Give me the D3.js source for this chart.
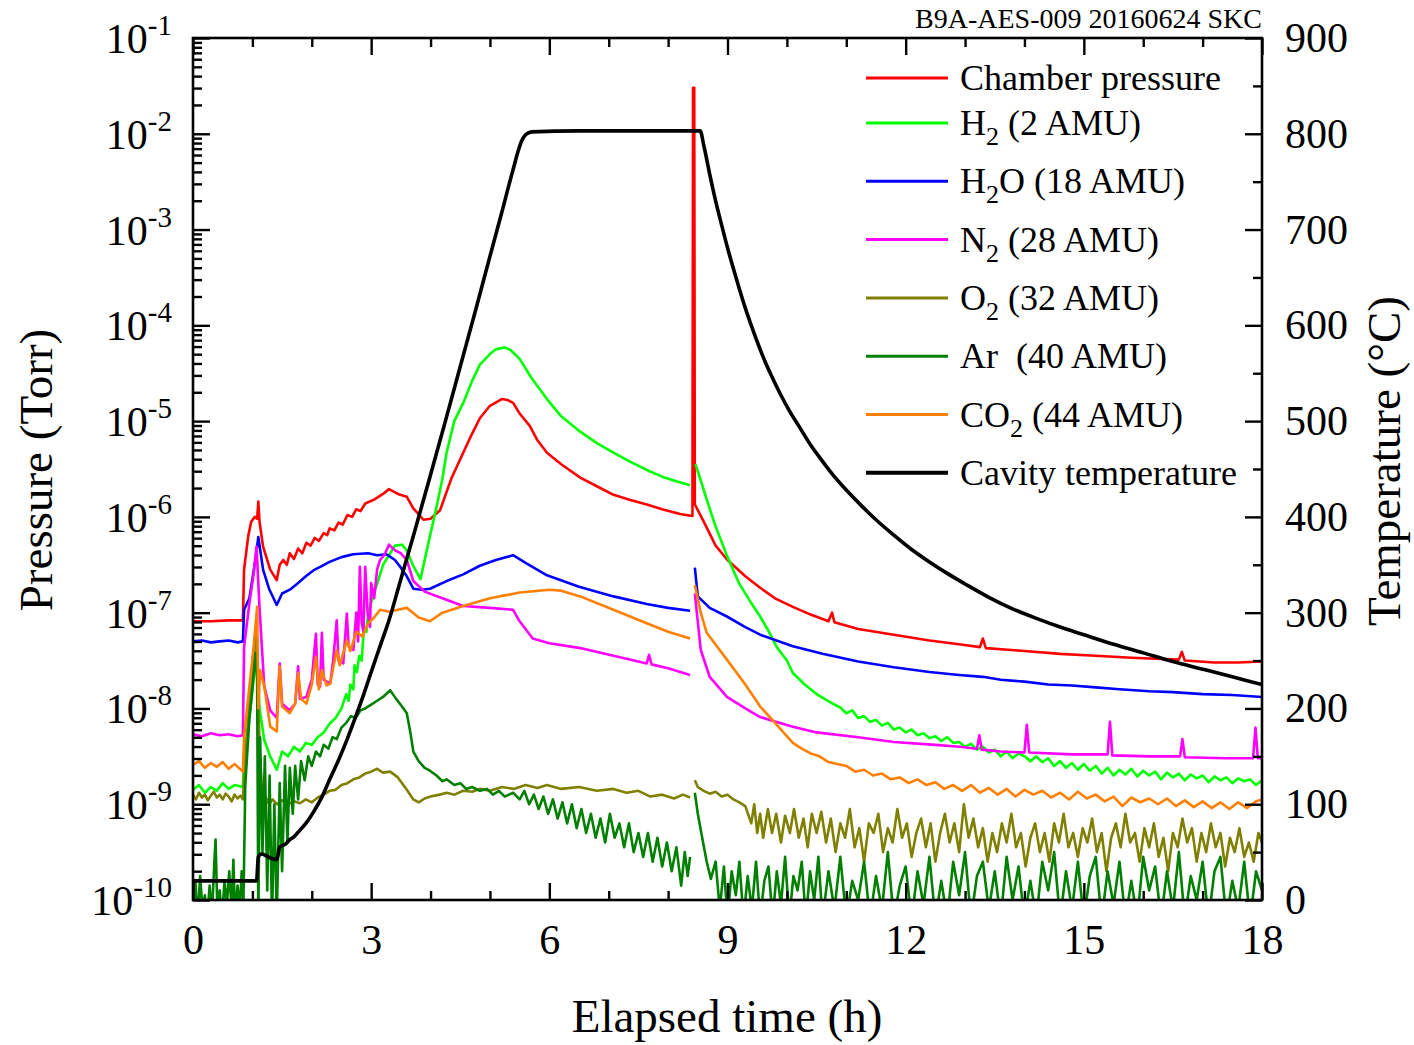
<!DOCTYPE html>
<html>
<head>
<meta charset="utf-8">
<script src="https://cdn.jsdelivr.net/npm/d3@7"></script>
<style>
body{margin:0;background:#fff;}
text{font-family:"Liberation Serif","Times New Roman",serif;fill:#000;}
</style>
</head>
<body>
<svg id="chart"></svg>
<script>
// pressures are stored as log10(Torr), temperature in degC, time in hours
// null marks the short gap in the RGA data around the pressure burst
var chamberP=[[0,-7.09],[0.3,-7.09],[0.6,-7.08],[0.84,-7.08],[0.86,-6.55],[0.93,-6.2],[0.98,-6.05],[1.04,-6.0],[1.08,-6.02],[1.1,-5.84],[1.12,-6.05],[1.18,-6.31],[1.3,-6.55],[1.41,-6.66],[1.46,-6.5],[1.52,-6.45],[1.58,-6.5],[1.63,-6.38],[1.7,-6.44],[1.77,-6.33],[1.84,-6.38],[1.91,-6.27],[1.98,-6.3],[2.05,-6.22],[2.12,-6.25],[2.2,-6.17],[2.26,-6.19],[2.3,-6.12],[2.38,-6.14],[2.45,-6.06],[2.52,-6.08],[2.6,-5.98],[2.68,-6.0],[2.75,-5.92],[2.82,-5.94],[2.9,-5.86],[3.05,-5.82],[3.2,-5.76],[3.3,-5.71],[3.45,-5.76],[3.6,-5.79],[3.71,-5.91],[3.88,-6.03],[4.0,-6.02],[4.16,-5.93],[4.35,-5.6],[4.55,-5.33],[4.7,-5.13],[4.83,-4.97],[5.0,-4.84],[5.2,-4.77],[5.3,-4.78],[5.39,-4.81],[5.5,-4.92],[5.67,-5.05],[5.8,-5.2],[5.96,-5.33],[6.2,-5.45],[6.52,-5.59],[6.8,-5.68],[7.08,-5.77],[7.35,-5.82],[7.64,-5.87],[7.9,-5.92],[8.2,-5.97],[8.41,-5.99],[8.42,-1.52],[8.44,-1.52],[8.45,-5.87],[8.6,-6.05],[8.8,-6.3],[9.0,-6.45],[9.3,-6.62],[9.55,-6.74],[9.8,-6.85],[10.1,-6.94],[10.4,-7.02],[10.7,-7.09],[10.76,-7.0],[10.8,-7.1],[11.2,-7.17],[11.8,-7.23],[12.4,-7.29],[12.9,-7.33],[13.25,-7.36],[13.3,-7.27],[13.35,-7.37],[14.0,-7.4],[14.6,-7.43],[15.2,-7.45],[15.8,-7.47],[16.6,-7.49],[16.65,-7.41],[16.7,-7.5],[17.2,-7.52],[17.6,-7.52],[18,-7.51]];

var h2P=[[0,-8.85],[0.1,-8.8],[0.2,-8.88],[0.3,-8.82],[0.4,-8.86],[0.5,-8.78],[0.6,-8.84],[0.7,-8.8],[0.84,-8.82],[0.86,-8.5],[0.95,-8.1],[1.02,-7.7],[1.08,-7.4],[1.12,-8.0],[1.2,-8.33],[1.3,-8.5],[1.41,-8.64],[1.5,-8.45],[1.6,-8.5],[1.7,-8.4],[1.8,-8.45],[1.9,-8.36],[2.0,-8.38],[2.1,-8.3],[2.2,-8.25],[2.3,-8.16],[2.4,-8.1],[2.5,-8.0],[2.58,-7.85],[2.62,-7.92],[2.65,-7.75],[2.7,-7.8],[2.72,-7.55],[2.76,-7.62],[2.8,-7.45],[2.84,-7.5],[2.88,-7.15],[2.92,-7.2],[2.95,-7.0],[3.02,-6.85],[3.1,-6.7],[3.2,-6.5],[3.3,-6.4],[3.4,-6.3],[3.52,-6.29],[3.6,-6.35],[3.7,-6.5],[3.83,-6.65],[3.99,-6.2],[4.1,-5.9],[4.2,-5.6],[4.27,-5.33],[4.4,-5.0],[4.55,-4.81],[4.7,-4.58],[4.83,-4.41],[5.0,-4.3],[5.1,-4.25],[5.25,-4.23],[5.35,-4.26],[5.5,-4.35],[5.7,-4.55],[5.96,-4.77],[6.2,-4.95],[6.52,-5.11],[6.8,-5.23],[7.08,-5.33],[7.35,-5.42],[7.64,-5.51],[7.9,-5.58],[8.15,-5.63],[8.37,-5.67],[8.4,null],[8.46,-5.45],[8.55,-5.62],[8.65,-5.82],[8.8,-6.1],[9.0,-6.42],[9.2,-6.7],[9.4,-6.9],[9.55,-7.04],[9.7,-7.2],[9.83,-7.36],[10.0,-7.5],[10.1,-7.63],[10.3,-7.75],[10.5,-7.85],[10.77,-7.95],[10.9,-7.99],[11.0,-8.05],[11.1,-8.02],[11.2,-8.1],[11.3,-8.08],[11.4,-8.14],[11.5,-8.12],[11.6,-8.18],[11.7,-8.15],[11.8,-8.22],[11.9,-8.2],[12.0,-8.25],[12.1,-8.22],[12.2,-8.28],[12.3,-8.26],[12.4,-8.31],[12.5,-8.29],[12.6,-8.34],[12.7,-8.3],[12.8,-8.36],[12.9,-8.35],[13.0,-8.4],[13.1,-8.37],[13.2,-8.43],[13.3,-8.4],[13.4,-8.46],[13.5,-8.43],[13.6,-8.5],[13.7,-8.45],[13.8,-8.52],[13.9,-8.47],[14.0,-8.5],[14.1,-8.55],[14.2,-8.5],[14.3,-8.56],[14.4,-8.52],[14.5,-8.6],[14.6,-8.55],[14.7,-8.62],[14.8,-8.57],[14.9,-8.64],[15.0,-8.58],[15.1,-8.65],[15.2,-8.6],[15.3,-8.68],[15.4,-8.62],[15.5,-8.7],[15.6,-8.64],[15.7,-8.69],[15.8,-8.63],[15.9,-8.71],[16.0,-8.65],[16.1,-8.7],[16.2,-8.66],[16.3,-8.74],[16.4,-8.67],[16.5,-8.72],[16.6,-8.68],[16.7,-8.75],[16.8,-8.69],[16.9,-8.73],[17.0,-8.7],[17.1,-8.77],[17.2,-8.71],[17.3,-8.75],[17.4,-8.72],[17.5,-8.78],[17.6,-8.73],[17.7,-8.76],[17.8,-8.74],[17.9,-8.8],[18,-8.75]];

var h2oP=[[0,-7.3],[0.15,-7.29],[0.3,-7.31],[0.45,-7.3],[0.6,-7.29],[0.75,-7.31],[0.84,-7.3],[0.86,-6.97],[0.95,-6.85],[1.0,-6.65],[1.05,-6.45],[1.1,-6.21],[1.18,-6.55],[1.28,-6.75],[1.41,-6.92],[1.5,-6.8],[1.63,-6.76],[1.75,-6.7],[1.9,-6.62],[2.05,-6.55],[2.15,-6.52],[2.3,-6.47],[2.5,-6.42],[2.7,-6.39],[2.95,-6.38],[3.1,-6.4],[3.26,-6.39],[3.4,-6.45],[3.5,-6.53],[3.6,-6.62],[3.71,-6.75],[3.85,-6.76],[3.99,-6.75],[4.27,-6.67],[4.55,-6.6],[4.83,-6.51],[5.1,-6.45],[5.39,-6.4],[5.6,-6.48],[5.96,-6.61],[6.5,-6.73],[7.08,-6.83],[7.64,-6.91],[8.0,-6.95],[8.37,-6.98],[8.4,null],[8.45,-6.53],[8.5,-6.83],[8.7,-6.95],[8.99,-7.04],[9.3,-7.15],[9.55,-7.23],[10.1,-7.35],[10.6,-7.43],[11.2,-7.51],[11.8,-7.57],[12.4,-7.62],[12.9,-7.65],[13.3,-7.67],[13.6,-7.7],[14.0,-7.72],[14.4,-7.75],[14.8,-7.76],[15.2,-7.78],[15.6,-7.8],[16.1,-7.82],[16.5,-7.83],[17.0,-7.85],[17.5,-7.86],[18,-7.88]];

var n2P=[[0,-8.27],[0.15,-8.29],[0.3,-8.26],[0.45,-8.28],[0.6,-8.27],[0.75,-8.29],[0.84,-8.28],[0.86,-7.36],[0.95,-6.9],[1.02,-6.6],[1.07,-6.31],[1.12,-6.95],[1.2,-7.77],[1.3,-8.02],[1.41,-8.1],[1.46,-7.53],[1.5,-7.95],[1.63,-8.02],[1.72,-7.95],[1.77,-7.56],[1.8,-7.9],[1.91,-7.88],[2.0,-7.7],[2.07,-7.22],[2.1,-7.75],[2.14,-7.77],[2.17,-7.21],[2.2,-7.7],[2.31,-7.74],[2.36,-7.5],[2.42,-7.08],[2.45,-7.5],[2.53,-7.53],[2.59,-7.01],[2.62,-7.35],[2.7,-7.39],[2.75,-7.0],[2.78,-7.3],[2.81,-6.52],[2.84,-7.1],[2.87,-7.2],[2.9,-6.52],[2.94,-7.0],[2.98,-7.15],[3.0,-6.69],[3.05,-6.85],[3.1,-6.55],[3.15,-6.45],[3.22,-6.4],[3.3,-6.29],[3.4,-6.35],[3.5,-6.38],[3.6,-6.45],[3.71,-6.67],[3.9,-6.78],[4.2,-6.85],[4.55,-6.93],[5.0,-6.95],[5.39,-6.97],[5.5,-7.09],[5.72,-7.27],[6.0,-7.32],[6.52,-7.37],[7.08,-7.45],[7.64,-7.53],[7.68,-7.44],[7.72,-7.54],[8.0,-7.58],[8.37,-7.65],[8.4,null],[8.45,-6.8],[8.55,-7.39],[8.7,-7.67],[8.99,-7.88],[9.3,-8.0],[9.55,-8.09],[10.1,-8.19],[10.5,-8.25],[11.2,-8.3],[11.8,-8.35],[12.5,-8.38],[12.91,-8.4],[13.2,-8.42],[13.24,-8.28],[13.28,-8.43],[13.6,-8.45],[14.0,-8.46],[14.04,-8.17],[14.08,-8.46],[14.8,-8.48],[15.4,-8.48],[15.44,-8.14],[15.48,-8.49],[16.1,-8.5],[16.62,-8.5],[16.66,-8.32],[16.7,-8.51],[17.4,-8.52],[17.85,-8.52],[17.89,-8.2],[17.93,-8.52],[18,-8.52]];

var o2P=[[0,-8.9],[0.05,-8.95],[0.1,-8.88],[0.15,-8.93],[0.2,-8.9],[0.25,-8.96],[0.3,-8.91],[0.35,-8.87],[0.4,-8.93],[0.45,-8.9],[0.5,-8.95],[0.55,-8.89],[0.6,-8.92],[0.65,-8.97],[0.7,-8.9],[0.75,-8.94],[0.8,-8.91],[0.84,-8.95],[0.87,-8.6],[0.93,-8.1],[1.0,-7.6],[1.06,-7.18],[1.09,-7.6],[1.12,-8.4],[1.17,-8.96],[1.22,-8.92],[1.28,-9.0],[1.34,-8.95],[1.41,-9.0],[1.5,-8.96],[1.6,-9.0],[1.7,-8.97],[1.8,-8.99],[1.9,-8.95],[2.0,-8.98],[2.1,-8.93],[2.2,-8.9],[2.3,-8.86],[2.4,-8.85],[2.5,-8.8],[2.6,-8.78],[2.7,-8.74],[2.8,-8.72],[2.9,-8.68],[3.0,-8.66],[3.1,-8.63],[3.2,-8.67],[3.32,-8.66],[3.45,-8.72],[3.6,-8.85],[3.71,-8.95],[3.8,-8.98],[3.9,-8.94],[4.0,-8.92],[4.15,-8.9],[4.27,-8.88],[4.4,-8.9],[4.55,-8.86],[4.7,-8.87],[4.83,-8.84],[5.0,-8.86],[5.2,-8.82],[5.4,-8.84],[5.6,-8.8],[5.8,-8.83],[5.96,-8.8],[6.2,-8.84],[6.5,-8.82],[6.8,-8.86],[7.08,-8.84],[7.3,-8.88],[7.5,-8.86],[7.7,-8.92],[7.9,-8.9],[8.1,-8.94],[8.25,-8.9],[8.37,-8.93],[8.4,null],[8.45,-8.75],[8.5,-8.82],[8.6,-8.86],[8.7,-8.89],[8.8,-8.87],[8.9,-8.92],[9.0,-8.9],[9.1,-8.95],[9.2,-8.98],[9.3,-9.02],[9.4,-9.2],[9.45,-9.0],[9.5,-9.3],[9.55,-9.1],[9.6,-9.35],[9.68,-9.05],[9.75,-9.3],[9.82,-9.1],[9.9,-9.4],[9.97,-9.12],[10.05,-9.3],[10.12,-9.05],[10.2,-9.35],[10.28,-9.15],[10.35,-9.45],[10.42,-9.1],[10.5,-9.3],[10.58,-9.08],[10.66,-9.4],[10.74,-9.15],[10.82,-9.5],[10.9,-9.2],[10.98,-9.35],[11.06,-9.05],[11.14,-9.45],[11.22,-9.25],[11.3,-9.6],[11.38,-9.2],[11.46,-9.3],[11.54,-9.1],[11.62,-9.5],[11.7,-9.25],[11.78,-9.4],[11.86,-9.05],[11.94,-9.35],[12.02,-9.2],[12.1,-9.55],[12.18,-9.3],[12.26,-9.15],[12.34,-9.45],[12.42,-9.2],[12.5,-9.6],[12.58,-9.3],[12.66,-9.1],[12.74,-9.4],[12.82,-9.2],[12.9,-9.5],[12.98,-9.0],[13.06,-9.35],[13.14,-9.15],[13.22,-9.45],[13.3,-9.25],[13.38,-9.6],[13.46,-9.3],[13.54,-9.5],[13.62,-9.2],[13.7,-9.4],[13.78,-9.1],[13.86,-9.45],[13.94,-9.3],[14.02,-9.65],[14.1,-9.35],[14.18,-9.2],[14.26,-9.5],[14.34,-9.3],[14.42,-9.6],[14.5,-9.2],[14.58,-9.4],[14.66,-9.1],[14.74,-9.45],[14.82,-9.3],[14.9,-9.55],[14.98,-9.25],[15.06,-9.4],[15.14,-9.15],[15.22,-9.5],[15.3,-9.3],[15.38,-9.7],[15.46,-9.35],[15.54,-9.2],[15.62,-9.45],[15.7,-9.1],[15.78,-9.4],[15.86,-9.3],[15.94,-9.6],[16.02,-9.25],[16.1,-9.45],[16.18,-9.2],[16.26,-9.55],[16.34,-9.35],[16.42,-9.7],[16.5,-9.3],[16.58,-9.45],[16.66,-9.15],[16.74,-9.4],[16.82,-9.25],[16.9,-9.6],[16.98,-9.3],[17.06,-9.5],[17.14,-9.2],[17.22,-9.45],[17.3,-9.3],[17.38,-9.65],[17.46,-9.35],[17.54,-9.5],[17.62,-9.25],[17.7,-9.55],[17.78,-9.4],[17.86,-9.6],[17.94,-9.3],[18,-9.4]];

var arP=[[0,-10.05],[0.04,-9.8],[0.08,-10.2],[0.12,-9.75],[0.16,-10.1],[0.2,-9.95],[0.24,-10.2],[0.28,-9.85],[0.32,-10.15],[0.36,-9.6],[0.38,-9.37],[0.41,-10.1],[0.45,-9.9],[0.49,-10.2],[0.53,-9.8],[0.57,-10.05],[0.61,-9.7],[0.65,-10.1],[0.68,-9.58],[0.71,-10.2],[0.75,-9.85],[0.79,-10.1],[0.82,-9.7],[0.85,-10.0],[0.88,-8.8],[0.95,-8.1],[1.0,-7.8],[1.05,-7.42],[1.08,-7.7],[1.1,-10.2],[1.13,-8.3],[1.17,-9.5],[1.21,-8.5],[1.25,-9.9],[1.29,-8.7],[1.33,-10.2],[1.37,-9.0],[1.41,-10.2],[1.46,-8.78],[1.5,-9.7],[1.55,-8.6],[1.59,-9.4],[1.63,-8.62],[1.68,-9.1],[1.72,-8.6],[1.77,-8.95],[1.82,-8.55],[1.88,-8.75],[1.94,-8.5],[2.0,-8.6],[2.07,-8.45],[2.14,-8.5],[2.2,-8.38],[2.28,-8.42],[2.35,-8.3],[2.42,-8.32],[2.5,-8.2],[2.58,-8.15],[2.66,-8.08],[2.74,-8.1],[2.82,-8.02],[2.9,-8.0],[3.0,-7.96],[3.1,-7.92],[3.2,-7.88],[3.32,-7.81],[3.42,-7.9],[3.52,-7.98],[3.6,-8.05],[3.66,-8.25],[3.71,-8.45],[3.8,-8.55],[3.9,-8.62],[3.99,-8.65],[4.1,-8.7],[4.2,-8.76],[4.27,-8.74],[4.4,-8.8],[4.5,-8.78],[4.6,-8.84],[4.7,-8.82],[4.83,-8.86],[4.95,-8.84],[5.05,-8.9],[5.15,-8.86],[5.25,-8.92],[5.39,-8.88],[5.5,-8.95],[5.58,-8.86],[5.66,-9.0],[5.74,-8.9],[5.82,-9.05],[5.9,-8.92],[5.98,-9.1],[6.06,-8.95],[6.14,-9.15],[6.22,-8.98],[6.3,-9.2],[6.38,-9.0],[6.46,-9.25],[6.54,-9.05],[6.62,-9.3],[6.7,-9.1],[6.78,-9.35],[6.86,-9.15],[6.94,-9.4],[7.02,-9.1],[7.1,-9.35],[7.18,-9.2],[7.26,-9.45],[7.34,-9.2],[7.42,-9.5],[7.5,-9.3],[7.58,-9.55],[7.66,-9.3],[7.74,-9.6],[7.82,-9.35],[7.9,-9.65],[7.98,-9.4],[8.06,-9.7],[8.14,-9.45],[8.22,-9.85],[8.28,-9.5],[8.33,-9.75],[8.37,-9.55],[8.4,null],[8.45,-8.88],[8.5,-9.1],[8.58,-9.37],[8.65,-9.6],[8.72,-9.78],[8.8,-9.6],[8.87,-10.1],[8.94,-9.65],[9.0,-10.2],[9.07,-9.7],[9.14,-9.95],[9.2,-9.6],[9.27,-10.2],[9.34,-9.75],[9.41,-10.1],[9.48,-9.6],[9.55,-10.2],[9.62,-9.8],[9.69,-9.65],[9.76,-10.2],[9.83,-9.7],[9.9,-10.05],[9.97,-9.55],[10.04,-10.2],[10.11,-9.75],[10.18,-9.9],[10.25,-9.6],[10.32,-10.2],[10.39,-9.7],[10.46,-10.0],[10.53,-9.55],[10.6,-10.2],[10.7,-9.7],[10.8,-10.1],[10.9,-9.55],[11.0,-10.2],[11.1,-9.8],[11.2,-10.0],[11.3,-9.6],[11.4,-10.2],[11.5,-9.75],[11.6,-10.1],[11.7,-9.5],[11.8,-10.2],[11.9,-9.85],[12.0,-9.65],[12.1,-10.2],[12.2,-9.7],[12.3,-10.05],[12.4,-9.55],[12.5,-10.2],[12.6,-9.8],[12.7,-10.2],[12.8,-9.6],[12.9,-9.95],[13.0,-9.5],[13.1,-10.2],[13.2,-9.75],[13.3,-9.6],[13.4,-10.1],[13.5,-9.7],[13.6,-10.2],[13.7,-9.55],[13.8,-10.0],[13.9,-9.65],[14.0,-10.2],[14.1,-9.8],[14.2,-10.2],[14.3,-9.6],[14.4,-9.9],[14.5,-9.5],[14.6,-10.2],[14.7,-9.7],[14.8,-10.1],[14.9,-9.6],[15.0,-10.2],[15.1,-9.75],[15.2,-9.55],[15.3,-10.2],[15.4,-9.7],[15.5,-10.05],[15.6,-9.6],[15.7,-10.2],[15.8,-9.8],[15.9,-10.2],[16.0,-9.55],[16.1,-9.9],[16.2,-9.65],[16.3,-10.2],[16.4,-9.7],[16.5,-10.1],[16.6,-9.5],[16.7,-10.2],[16.8,-9.75],[16.9,-10.0],[17.0,-9.6],[17.1,-10.2],[17.2,-9.7],[17.3,-9.55],[17.4,-10.2],[17.5,-9.8],[17.6,-10.1],[17.7,-9.6],[17.8,-10.2],[17.9,-9.7],[18,-9.9]];

var co2P=[[0,-8.59],[0.1,-8.55],[0.2,-8.62],[0.3,-8.57],[0.4,-8.61],[0.5,-8.56],[0.6,-8.63],[0.7,-8.58],[0.84,-8.66],[0.86,-8.3],[0.95,-7.77],[1.02,-7.36],[1.08,-6.94],[1.1,-8.0],[1.13,-7.6],[1.2,-7.77],[1.3,-8.19],[1.41,-8.24],[1.46,-7.56],[1.5,-7.98],[1.63,-8.05],[1.72,-7.95],[1.77,-7.63],[1.82,-7.9],[1.91,-7.95],[2.0,-7.75],[2.07,-7.46],[2.12,-7.8],[2.17,-7.6],[2.25,-7.76],[2.31,-7.74],[2.42,-7.39],[2.47,-7.55],[2.59,-7.29],[2.65,-7.4],[2.75,-7.2],[2.85,-7.25],[2.95,-7.11],[3.05,-7.05],[3.15,-6.97],[3.3,-6.99],[3.45,-6.97],[3.6,-6.95],[3.8,-7.05],[3.99,-7.09],[4.2,-7.0],[4.55,-6.93],[5.0,-6.85],[5.5,-6.79],[6.0,-6.76],[6.2,-6.77],[6.52,-6.83],[7.08,-6.97],[7.64,-7.11],[8.0,-7.2],[8.37,-7.27],[8.4,null],[8.45,-6.71],[8.55,-7.0],[8.65,-7.21],[8.99,-7.49],[9.3,-7.75],[9.55,-7.98],[9.8,-8.15],[10.1,-8.36],[10.25,-8.42],[10.4,-8.47],[10.55,-8.5],[10.7,-8.56],[10.85,-8.58],[11.0,-8.6],[11.15,-8.66],[11.3,-8.64],[11.45,-8.7],[11.6,-8.68],[11.75,-8.74],[11.9,-8.72],[12.05,-8.78],[12.2,-8.74],[12.35,-8.8],[12.5,-8.77],[12.65,-8.84],[12.8,-8.8],[12.95,-8.86],[13.1,-8.8],[13.25,-8.88],[13.4,-8.83],[13.55,-8.9],[13.7,-8.84],[13.85,-8.92],[14.0,-8.85],[14.15,-8.9],[14.3,-8.86],[14.45,-8.93],[14.6,-8.88],[14.75,-8.95],[14.9,-8.87],[15.05,-8.94],[15.2,-8.9],[15.35,-8.97],[15.5,-8.92],[15.65,-9.02],[15.8,-8.93],[15.95,-8.98],[16.1,-8.94],[16.25,-9.0],[16.4,-8.94],[16.55,-9.02],[16.7,-8.96],[16.85,-9.03],[17.0,-8.97],[17.15,-9.04],[17.3,-8.98],[17.45,-9.05],[17.6,-8.98],[17.75,-9.04],[17.9,-8.97],[18,-8.95]];

var cavityT=[[0,20],[1.07,20],[1.1,45],[1.15,48],[1.3,44],[1.41,42],[1.46,55],[1.55,58],[1.63,63],[1.7,66],[1.8,73],[1.9,80],[2.03,92],[2.15,105],[2.31,127],[2.45,146],[2.59,167],[2.73,190],[2.87,214],[3.0,238],[3.15,265],[3.3,292],[3.5,335],[3.71,380],[4.0,444],[4.25,500],[4.5,557],[4.75,614],[5.0,672],[5.2,718],[5.3,742],[5.4,765],[5.47,781],[5.53,792],[5.6,799],[5.7,802],[6.5,803],[7.5,803],[8.54,803],[8.6,788],[8.7,758],[8.8,730],[8.9,705],[9.0,681],[9.1,659],[9.2,638],[9.3,618],[9.4,600],[9.5,583],[9.6,567],[9.75,546],[9.9,527],[10.05,510],[10.2,495],[10.4,475],[10.6,458],[10.8,442],[11.0,428],[11.25,412],[11.5,397],[11.8,381],[12.1,366],[12.4,353],[12.7,341],[13.0,330],[13.4,316],[13.8,304],[14.2,294],[14.6,285],[15.0,277],[15.5,267],[16.0,258],[16.5,249],[17.0,241],[17.5,233],[18,225]];

var seriesData=[chamberP,h2P,h2oP,n2P,o2P,arP,co2P];
var seriesColors=["#ff0000","#00ff00","#0000ff","#ff00ff","#808000","#008000","#ff8000"];
var legendMain=["Chamber pressure","H","H","N","O","Ar","CO","Cavity temperature"];
var legendSub=["","2","2","2","2","","2",""];
var legendRest=[""," (2 AMU)","O (18 AMU)"," (28 AMU)"," (32 AMU)","\u00a0 (40 AMU)"," (44 AMU)",""];

var hourTicks=[0,3,6,9,12,15,18];
var decadeTicks=[-10,-9,-8,-7,-6,-5,-4,-3,-2,-1];
var tempTicks=[0,100,200,300,400,500,600,700,800,900];

var drawGraph=function(w,h)
{
  var svg=d3.select("#chart")
            .attr("width",w)
            .attr("height",h);
  var plot={left:193,right:1262,top:38,bottom:900};

  var xScale=d3.scaleLinear()
               .domain([0,18])
               .range([plot.left,plot.right]);
  var yScale=d3.scaleLog()
               .domain([1e-10,1e-1])
               .range([plot.bottom,plot.top]);
  var tScale=d3.scaleLinear()
               .domain([0,900])
               .range([plot.bottom,plot.top]);

  svg.append("clipPath").attr("id","clip")
     .append("rect")
     .attr("x",plot.left).attr("y",plot.top)
     .attr("width",plot.right-plot.left)
     .attr("height",plot.bottom-plot.top);

  var line=d3.line()
             .defined(function(d){return d[1]!==null;})
             .x(function(d){return xScale(d[0]);})
             .y(function(d){return yScale(Math.pow(10,d[1]));});
  var tLine=d3.line()
              .curve(d3.curveMonotoneX)
              .x(function(d){return xScale(d[0]);})
              .y(function(d){return tScale(d[1]);});

  var lines=svg.append("g").attr("clip-path","url(#clip)");
  lines.selectAll("path.gas")
       .data(seriesData)
       .enter()
       .append("path")
       .classed("gas",true)
       .attr("d",line)
       .attr("fill","none")
       .attr("stroke",function(d,i){return seriesColors[i];})
       .attr("stroke-width",2.6)
       .attr("stroke-linejoin","round");
  lines.append("path")
       .attr("d",tLine(cavityT))
       .attr("fill","none")
       .attr("stroke","#000")
       .attr("stroke-width",3.6)
       .attr("stroke-linejoin","round");

  // ticks all point inward
  var minorHours=d3.range(0,19).filter(function(v){return v%3!=0;});
  var minorP=[];
  decadeTicks.forEach(function(e){
    if(e<-1){for(var k=2;k<10;k++){minorP.push(k*Math.pow(10,e));}}
  });
  var majorP=decadeTicks.map(function(e){return Math.pow(10,e);});

  var addAxis=function(axis,tx,ty)
  {
    var g=svg.append("g")
             .attr("transform","translate("+tx+","+ty+")")
             .call(axis);
    g.select(".domain").remove();
    g.selectAll("line").attr("stroke","#000").attr("stroke-width",2.4);
    return g;
  };
  addAxis(d3.axisBottom(xScale).tickValues(minorHours).tickSize(-9).tickFormat(""),0,plot.bottom);
  addAxis(d3.axisTop(xScale).tickValues(minorHours).tickSize(-9).tickFormat(""),0,plot.top);
  addAxis(d3.axisTop(xScale).tickValues(hourTicks).tickSize(-17).tickFormat(""),0,plot.top);
  var xAx=addAxis(d3.axisBottom(xScale).tickValues(hourTicks).tickSize(-17).tickPadding(24).tickFormat(d3.format("d")),0,plot.bottom);
  xAx.selectAll("text").attr("font-size",42).attr("font-family","Liberation Serif").attr("fill","#000");

  addAxis(d3.axisLeft(yScale).tickValues(minorP).tickSize(-9).tickFormat(""),plot.left,0);
  addAxis(d3.axisLeft(yScale).tickValues(majorP).tickSize(-17).tickFormat(""),plot.left,0);

  var minorT=d3.range(50,900,100);
  addAxis(d3.axisRight(tScale).tickValues(minorT).tickSize(-9).tickFormat(""),plot.right,0);
  var tAx=addAxis(d3.axisRight(tScale).tickValues(tempTicks).tickSize(-17).tickPadding(23).tickFormat(d3.format("d")),plot.right,0);
  tAx.selectAll("text").attr("font-size",42).attr("font-family","Liberation Serif").attr("fill","#000");

  svg.append("rect")
     .attr("x",plot.left).attr("y",plot.top)
     .attr("width",plot.right-plot.left)
     .attr("height",plot.bottom-plot.top)
     .attr("fill","none")
     .attr("stroke","#000")
     .attr("stroke-width",2.6);

  // left labels 10^n
  var yLabels=svg.append("g").selectAll("text")
                 .data(decadeTicks)
                 .enter()
                 .append("text")
                 .attr("x",172)
                 .attr("y",function(d){return yScale(Math.pow(10,d))+15;})
                 .attr("text-anchor","end")
                 .attr("font-size",42);
  yLabels.append("tspan").text("10");
  yLabels.append("tspan")
         .attr("dy",-18)
         .attr("font-size",29)
         .text(function(d){return "-"+(-d);});

  // legend
  var legend=svg.append("g").classed("legend",true);
  var legendRows=legend.selectAll("g")
                       .data(legendMain)
                       .enter()
                       .append("g")
                       .attr("transform",function(d,i){
                         var y=i==0?78:123+(i-1)*58.3;
                         return "translate(866,"+y+")";});
  legendRows.append("line")
            .attr("x1",0).attr("x2",82)
            .attr("y1",0).attr("y2",0)
            .attr("stroke",function(d,i){return i<7?seriesColors[i]:"#000";})
            .attr("stroke-width",function(d,i){return i<7?3:4;});
  var lt=legendRows.append("text")
                   .attr("x",94)
                   .attr("y",12)
                   .attr("font-size",36);
  lt.append("tspan").text(function(d){return d;});
  lt.append("tspan")
    .attr("dy",function(d,i){return legendSub[i]?10:0;})
    .attr("font-size",26)
    .text(function(d,i){return legendSub[i];});
  lt.append("tspan")
    .attr("dy",function(d,i){return legendSub[i]?-10:0;})
    .text(function(d,i){return legendRest[i];});

  // titles
  svg.append("text")
     .attr("x",1262).attr("y",28)
     .attr("text-anchor","end")
     .attr("font-size",28)
     .text("B9A-AES-009 20160624 SKC");
  svg.append("text")
     .attr("x",727).attr("y",1032)
     .attr("text-anchor","middle")
     .attr("font-size",47)
     .text("Elapsed time (h)");
  svg.append("text")
     .attr("transform","translate(52,470) rotate(-90)")
     .attr("text-anchor","middle")
     .attr("font-size",47)
     .text("Pressure (Torr)");
  svg.append("text")
     .attr("transform","translate(1400,461) rotate(-90)")
     .attr("text-anchor","middle")
     .attr("font-size",47)
     .text("Temperature (\u00b0C)");
};

drawGraph(1414,1045);
</script>
</body>
</html>
